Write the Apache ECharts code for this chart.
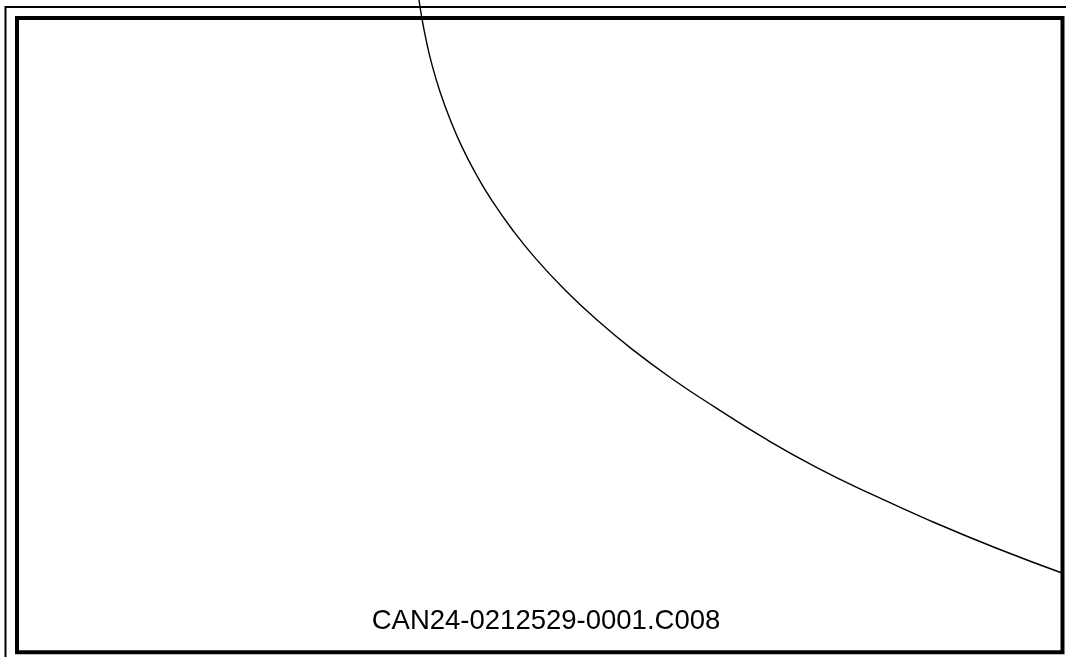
<!DOCTYPE html>
<html>
<head>
<meta charset="utf-8">
<script src="https://cdn.jsdelivr.net/npm/echarts@6/dist/echarts.min.js"></script>
<style>
html,body{margin:0;padding:0;background:#fff;}
#chart{width:1066px;height:657px;}
</style>
</head>
<body>
<div id="chart"></div>
<script>
// Curve samples (x, y) in chart units (0-100 across the framed area)
const curveX = [38.38, 38.74, 39.12, 39.69, 40.46, 41.42, 42.56, 43.90, 45.43, 47.35, 49.64, 52.32, 55.38, 58.82, 62.65, 66.86, 71.45, 76.42, 81.78, 87.52, 93.64, 99.95];
const curveY = [103.63, 99.87, 96.63, 92.65, 88.38, 84.03, 79.68, 75.41, 71.21, 66.70, 62.02, 57.28, 52.53, 47.80, 43.13, 38.53, 33.79, 29.21, 24.88, 20.62, 16.44, 12.50];
const caption = 'CAN24-0212529-0001.C008';

const data = curveX.map((x, i) => [x, curveY[i]]);

const chart = echarts.init(document.getElementById('chart'), null, {renderer: 'canvas'});
chart.setOption({
  animation: false,
  backgroundColor: '#fff',
  grid: {
    left: 17, top: 18, right: 3.5, bottom: 4.7,
    show: true, borderColor: '#000', borderWidth: 4, backgroundColor: 'transparent'
  },
  xAxis: { type: 'value', min: 0, max: 100, show: false },
  yAxis: { type: 'value', min: 0, max: 100, show: false },
  series: [{
    type: 'line',
    data: data,
    smooth: 0.5,
    clip: false,
    symbol: 'none',
    lineStyle: { color: '#000', width: 1.4 }
  }],
  graphic: [
    { type: 'line', shape: { x1: 5.5, y1: 6, x2: 5.5, y2: 657 }, style: { stroke: '#000', lineWidth: 2 } },
    { type: 'line', shape: { x1: 5, y1: 7, x2: 1066, y2: 7 }, style: { stroke: '#000', lineWidth: 2 } },
    { type: 'text', style: { text: caption, x: 546, y: 621.5, align: 'center', verticalAlign: 'middle',
        font: '27.5px "Liberation Sans", Arial, sans-serif', fill: '#000' } }
  ]
});
</script>
</body>
</html>
